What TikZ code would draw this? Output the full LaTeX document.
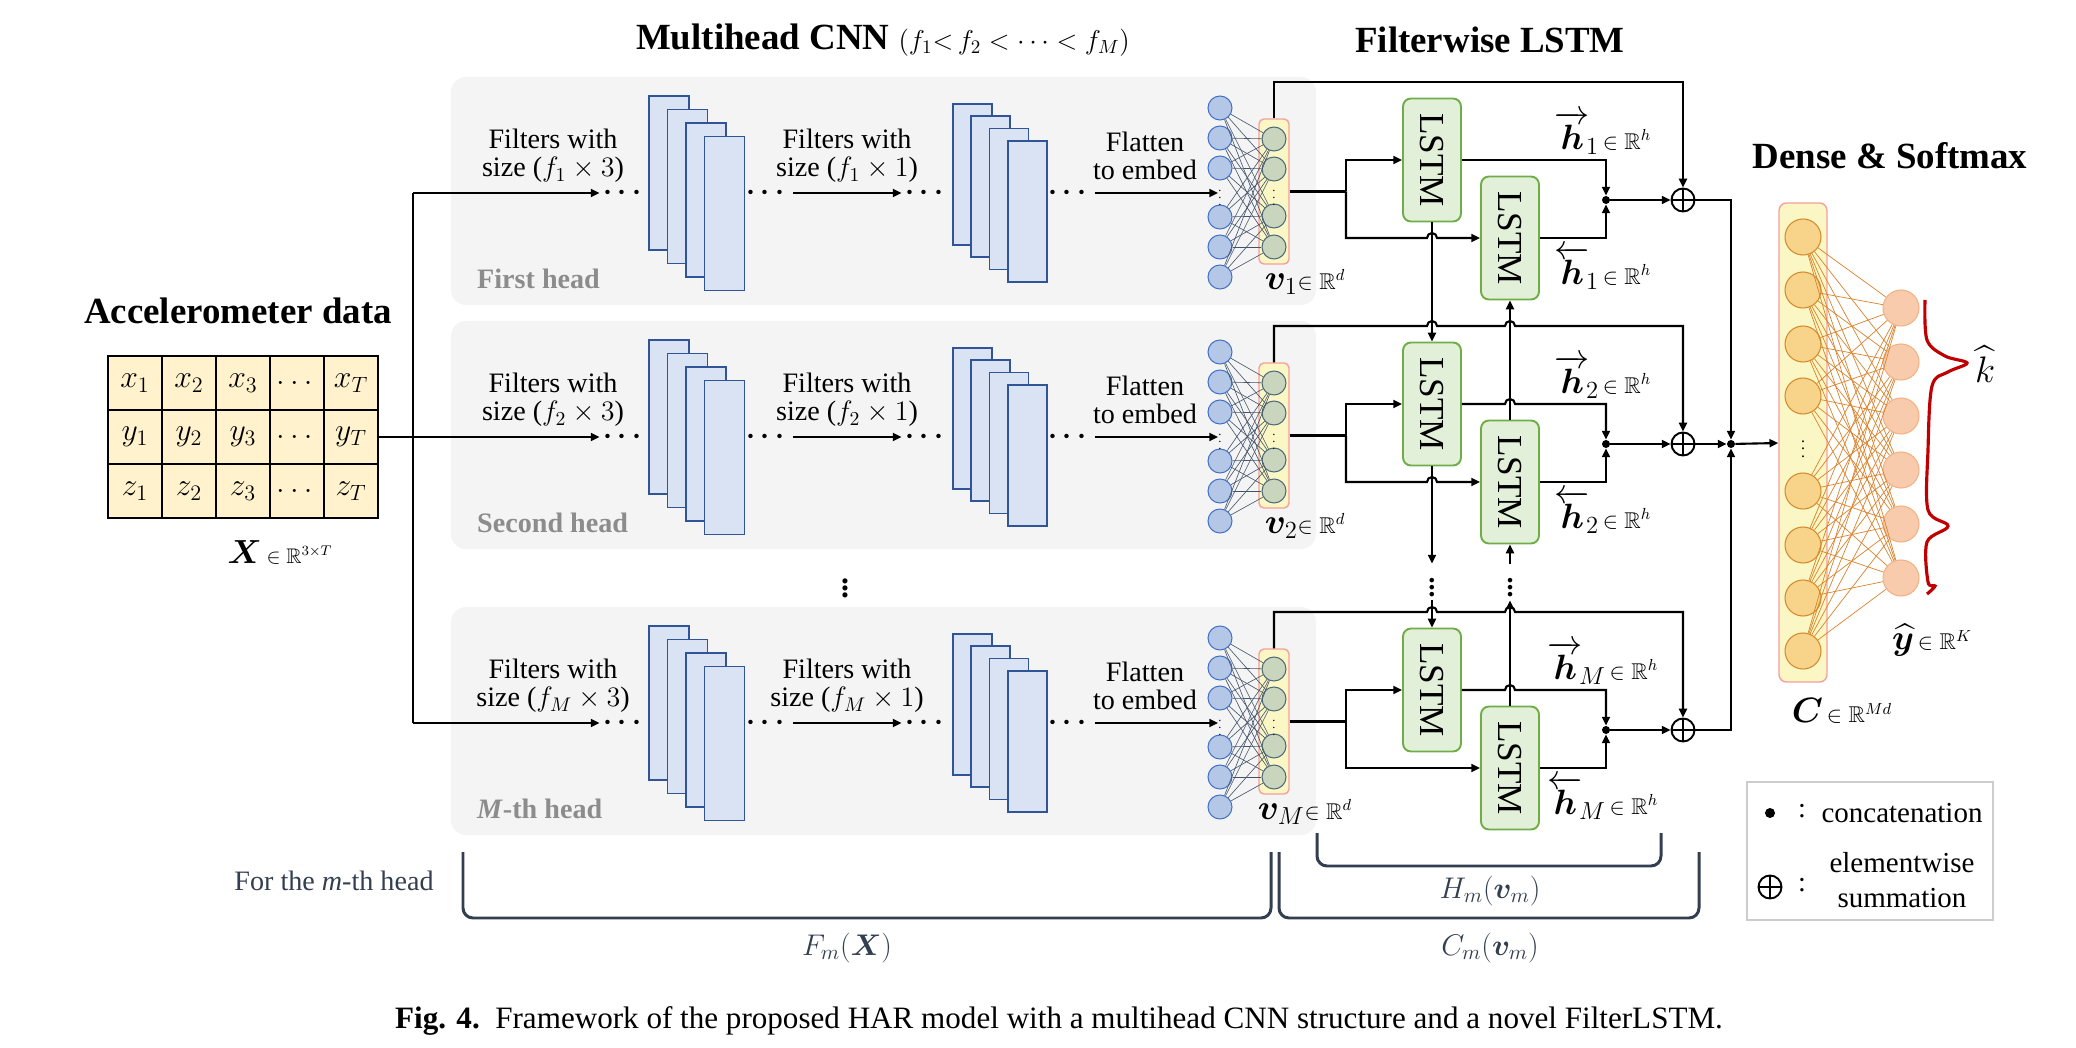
\RequirePackage{fix-cm}
\documentclass[tikz,border=0pt]{standalone}
\usepackage{amsmath,amssymb,bm}
\usepackage{graphicx}
\usepackage{fontspec}
\setmainfont{Liberation Serif}
\usetikzlibrary{arrows.meta,
                positioning,
                shapes.geometric}

\definecolor{headgray}{HTML}{F4F4F4}
\definecolor{headtext}{HTML}{8C8C8C}
\definecolor{mapfill}{HTML}{DAE3F3}
\definecolor{mapedge}{HTML}{2F5597}
\definecolor{infill}{HTML}{B4C7E7}
\definecolor{inedge}{HTML}{4472C4}
\definecolor{embfill}{HTML}{C9D5BC}
\definecolor{embedge}{HTML}{4E6A7A}
\definecolor{boxfill}{HTML}{FBF7C4}
\definecolor{boxedge}{HTML}{F4A09C}
\definecolor{netcol}{HTML}{44546A}
\definecolor{lstmfill}{HTML}{E2F0D9}
\definecolor{lstmedge}{HTML}{70AD47}
\definecolor{cellfill}{HTML}{FFF2CC}
\definecolor{densefill}{HTML}{F8D38A}
\definecolor{denseedge}{HTML}{D58A2E}
\definecolor{yfill}{HTML}{F8CBAD}
\definecolor{yedge}{HTML}{F4B183}
\definecolor{dcol}{HTML}{D9822B}
\definecolor{wavered}{HTML}{C00000}
\definecolor{bracecol}{HTML}{333F50}

\begin{document}
\begin{tikzpicture}[x=0.2mm, y=-0.2mm, font=\fontsize{16}{16}\selectfont,
    every text node part/.style={align=center},
    wire/.style={line width=1.2pt},
    arr/.style={line width=1.2pt, -{Triangle[length=5pt,width=4.5pt]}},
    title/.style={font=\fontsize{21}{24}\selectfont\bfseries},
    cell/.style={draw, fill=cellfill, line width=1pt, minimum width=10.8mm, minimum height=10.8mm, inner sep=0pt, font=\fontsize{18}{20}\selectfont},
    headbox/.style={fill=headgray, rounded corners=3mm, minimum width=173mm, minimum height=45.6mm},
    headname/.style={text=headtext, font=\fontsize{16}{18}\selectfont\bfseries, anchor=west},
    fmapa/.style={draw=mapedge, fill=mapfill, line width=1pt, inner sep=0pt, minimum width=8mm, minimum height=30.8mm},
    fmapb/.style={fmapa, minimum width=7.8mm, minimum height=28.2mm},
    dots/.style={inner sep=2pt, font=\fontsize{16}{16}\selectfont},
    smalldots/.style={inner sep=0pt, font=\fontsize{7}{7}\selectfont},
    inneur/.style={circle, draw=inedge, fill=infill, line width=0.6pt, minimum size=4.8mm, inner sep=0pt},
    embneur/.style={inneur, draw=embedge, fill=embfill},
    embbox/.style={draw=boxedge, fill=boxfill, line width=0.8pt, rounded corners=1mm, minimum width=6mm, minimum height=29mm},
    netline/.style={draw=netcol, line width=0.35pt},
    lstm/.style={draw=lstmedge, fill=lstmfill, line width=1.1pt, rounded corners=1.6mm, minimum width=11.6mm, minimum height=24.6mm, inner sep=0pt, font=\fontsize{20}{20}\selectfont},
    cat/.style={circle, fill=black, minimum size=1.6mm, inner sep=0pt},
    sum/.style={circle, draw, line width=1.1pt, minimum size=4.6mm, inner sep=0pt,
        path picture={\draw[line width=1.1pt] (path picture bounding box.north) -- (path picture bounding box.south)
                                              (path picture bounding box.west) -- (path picture bounding box.east);}},
    densebox/.style={draw=boxedge, fill=boxfill, line width=0.8pt, rounded corners=1.5mm, minimum width=9.6mm, minimum height=95.8mm},
    dnode/.style={circle, draw=denseedge, fill=densefill, line width=0.6pt, minimum size=7.2mm, inner sep=0pt},
    ynode/.style={dnode, draw=yedge, fill=yfill},
    dline/.style={draw=dcol, line width=0.4pt},
    wave/.style={draw=wavered, line width=1.8pt},
    legbox/.style={draw=black!20, line width=0.8pt, minimum width=49.2mm, minimum height=27.6mm},
    brace/.style={draw=bracecol, line width=1.7pt, rounded corners=2mm},
    bracetext/.style={text=bracecol, font=\fontsize{17}{19}\selectfont}]
    \useasboundingbox (0,0) rectangle (2076,1048);

    % titles
    \node[title] (cnntitle) at (883,40) {Multihead CNN {\fontsize{15.5}{17}\selectfont\mdseries$(f_1{<}\,f_2<\cdots<f_M)$}};
    \node[title] (lstmtitle) at (1490,40) {Filterwise LSTM};
    \node[title] (densetitle) at (1890,156) {Dense \& Softmax};
    \node[title] (acc) at (238,311) {Accelerometer data};

    % input table
    \foreach \v [count=\r] in {x,y,z}{
        \node[cell] (t\r1) at (135,329+54*\r) {$\v_1$};
        \node[cell] (t\r2) at (189,329+54*\r) {$\v_2$};
        \node[cell] (t\r3) at (243,329+54*\r) {$\v_3$};
        \node[cell] (t\r4) at (297,329+54*\r) {$\dots$};
        \node[cell] (t\r5) at (351,329+54*\r) {$\v_T$};
    }
    \node (xlab) at (280,552) {{\fontsize{19}{20}\selectfont$\bm X$}\,{\fontsize{12}{14}\selectfont$\in\mathbb{R}^{3\times T}$}};

    % the heads
    \foreach \hd/\dy/\hname in {1/0/First head, 2/244/Second head, M/530/{\textit{M}-th head}}{
        \node[headbox] (head\hd) at (883.5,191+\dy) {};
        \node[headname] (hn\hd) at (471,279+\dy) {\hname};
        \coordinate (in\hd) at (413,193+\dy);
        \node[dots] (d\hd-a) at (625,193+\dy) {$\bm\cdots$};
        \node[dots] (d\hd-b) at (768,193+\dy) {$\bm\cdots$};
        \node[dots] (d\hd-c) at (927,193+\dy) {$\bm\cdots$};
        \node[dots] (d\hd-d) at (1070,193+\dy) {$\bm\cdots$};
        \node (fa\hd) at (553,156+\dy) {Filters with\\size ($f_{\hd}\times 3$)};
        \node (fb\hd) at (847,156+\dy) {Filters with\\size ($f_{\hd}\times 1$)};
        \node (fc\hd) at (1145,156+\dy) {Flatten\\to embed};
        \foreach \i in {0,...,3}
            \node[fmapa] (ma\hd-\i) at (669+18.5*\i,173+13.5*\i+\dy) {};
        \foreach \i in {0,...,3}
            \node[fmapb] (mb\hd-\i) at (972.5+18.3*\i,174.5+12.3*\i+\dy) {};
        \foreach \j/\y in {1/108,2/138,3/168,4/217,5/247,6/277}
            \node[inneur] (n\hd-i\j) at (1220,\y+\dy) {};
        \node[smalldots] (n\hd-id) at (1220,193+\dy) {$\vdots$};
        \node[embbox] (e\hd) at (1274,191.5+\dy) {};
        \foreach \j/\y in {1/139,2/169,3/216,4/247}
            \node[embneur] (n\hd-e\j) at (1274,\y+\dy) {};
        \node[smalldots] (n\hd-ed) at (1274,193+\dy) {$\vdots$};
        \foreach \a in {1,...,6}
            \foreach \b in {1,...,4}
                \draw[netline] (n\hd-i\a) -- (n\hd-e\b);
        \node (v\hd) at (1305,282+\dy) {{\fontsize{20}{20}\selectfont$\bm v_{\hd}$}{\fontsize{13}{14}\selectfont$\in\mathbb{R}^d$}};
        \draw[arr] (in\hd) -- (d\hd-a);
        \draw[arr] (d\hd-b) -- (d\hd-c);
        \draw[arr] (d\hd-d) -- (n\hd-id);
        % filterwise lstm of this head
        \node[lstm] (f\hd) at (1432,160+\dy) {\rotatebox{-90}{LSTM}};
        \node[lstm] (b\hd) at (1510,238+\dy) {\rotatebox{-90}{LSTM}};
        \node[cat] (c\hd) at (1606,200+\dy) {};
        \node[sum] (s\hd) at (1683,200+\dy) {};
        \coordinate (sp\hd) at (1346,191.5+\dy);
        \node (hf\hd) at (1603,133+\dy) {{\fontsize{20}{20}\selectfont$\overrightarrow{\bm h}\mkern-2mu_{\hd}$}{\fontsize{13}{14}\selectfont$\,\in\mathbb{R}^h$}};
        \node (hb\hd) at (1603,268+\dy) {{\fontsize{20}{20}\selectfont$\overleftarrow{\bm h}\mkern-2mu_{\hd}$}{\fontsize{13}{14}\selectfont$\,\in\mathbb{R}^h$}};
        \draw[wire] (e\hd.east) -- (sp\hd);
        \draw[arr] (sp\hd) |- (f\hd.west);
        \draw[arr] (b\hd.east) -| (c\hd.south);
        \draw[arr] (c\hd) -- (s\hd);
    }
    \node (vdots) at (845,583) {\fontsize{18}{18}\selectfont$\bm\vdots$};

    \draw[wire] (in1) -- (inM);
    \draw[wire] (t25.east) -- (in2);

    % head 1
    \draw[arr] (e1.north) -- (1274,82) -| (s1.north);
    \draw[arr] (sp1) |- (1427,238) arc[start angle=180,end angle=0,radius=1mm] -- (b1.west);
    \draw[arr] (f1.east) -| (c1.north);
    % head 2
    \draw[arr] (e2.north) -- (1274,326) -- (1427,326) arc[start angle=180,end angle=0,radius=1mm]
               -- (1505,326) arc[start angle=180,end angle=0,radius=1mm] -| (s2.north);
    \draw[arr] (sp2) |- (1427,482) arc[start angle=180,end angle=0,radius=1mm] -- (b2.west);
    \draw[arr] (f2.east) -- (1505,404) arc[start angle=180,end angle=0,radius=1mm] -| (c2.north);
    % head M
    \draw[arr] (eM.north) -- (1274,612) -- (1427,612) arc[start angle=180,end angle=0,radius=1mm]
               -- (1505,612) arc[start angle=180,end angle=0,radius=1mm] -| (sM.north);
    \draw[arr] (spM) |- (bM.west);
    \draw[arr] (fM.east) -- (1505,690) arc[start angle=180,end angle=0,radius=1mm] -| (cM.north);

    % links between the heads
    \node[dots] (fv) at (1432,582) {$\bm\vdots$};
    \node[dots] (bv) at (1510,582) {$\bm\vdots$};
    \draw[arr] (f1) -- (f2);
    \draw[arr] (f2) -- (fv);
    \draw[arr] (fv) -- (fM);
    \draw[arr] (b2) -- (b1);
    \draw[arr] (bv) -- (b2);
    \draw[arr] (bM) -- (bv);

    \node[cat] (call) at (1731,444) {};
    \draw[arr] (s1.east) -| (call.north);
    \draw[arr] (s2) -- (call);
    \draw[arr] (sM.east) -| (call.south);

    % dense and softmax
    \node[densebox] (dense) at (1803,442.5) {};
    \foreach \j/\y in {1/237,2/290,3/344,4/396,5/491,6/545,7/598,8/651}
        \node[dnode] (dn\j) at (1803,\y) {};
    \node[smalldots] (dnd) at (1803,444) {\fontsize{9}{9}\selectfont$\vdots$};
    \foreach \j/\y in {1/308,2/362,3/416,4/470,5/524,6/578}
        \node[ynode] (yo\j) at (1901,\y) {};
    \foreach \a in {1,...,8}
        \foreach \b in {1,...,6}
            \draw[dline] (dn\a) -- (yo\b);
    \draw[arr] (call) -- (dense);
    \draw[wave] plot[smooth, tension=0.55] coordinates {(1925,300) (1927,340) (1945,356) (1967,363) (1948,372) (1932,386)
        (1928,450) (1928,510) (1948,526) (1927,542) (1928,582) (1935,586) (1927,594)};
    \node (khat) at (1985,364) {\fontsize{21}{22}\selectfont$\widehat{k}$};
    \node (ylab) at (1932,640) {{\fontsize{20}{20}\selectfont$\widehat{\bm y}$}{\fontsize{13}{14}\selectfont$\,\in\mathbb{R}^K$}};
    \node (clab) at (1842,711) {{\fontsize{20}{20}\selectfont$\bm C$}{\fontsize{13}{14}\selectfont$\,\in\mathbb{R}^{Md}$}};

    % legend
    \node[legbox] (leg) at (1870,851) {};
    \node[cat, minimum size=2mm] (legc) at (1770,813) {};
    \node (legc1) at (1802,811) {:};
    \node[font=\fontsize{16.5}{20}\selectfont] (legc2) at (1902,813) {concatenation};
    \node[sum] (legs) at (1770,887) {};
    \node (legs1) at (1802,885) {:};
    \node[font=\fontsize{16.5}{20}\selectfont] (legs2) at (1902,880) {elementwise\\summation};

    % braces
    \draw[brace] (463,852) -- (463,918) -- (1271,918) -- (1271,852);
    \draw[brace] (1279,852) -- (1279,918) -- (1699,918) -- (1699,852);
    \draw[brace] (1317,833) -- (1317,866) -- (1661,866) -- (1661,833);
    \node[bracetext, font=\fontsize{16}{18}\selectfont] (forlab) at (334,881) {For the \textit{m}-th head};
    \node[bracetext] (flab) at (847,948) {$F_m(\bm X)$};
    \node[bracetext] (hlab) at (1490,891) {$H_m(\bm v_m)$};
    \node[bracetext] (cmlab) at (1490,948) {$C_m(\bm v_m)$};

    \node[font=\fontsize{17.7}{20}\selectfont] (cap) at (1059,1021) {\textbf{Fig. 4.}\enspace Framework of the proposed HAR model with a multihead CNN structure and a novel FilterLSTM.};
\end{tikzpicture}
\end{document}
